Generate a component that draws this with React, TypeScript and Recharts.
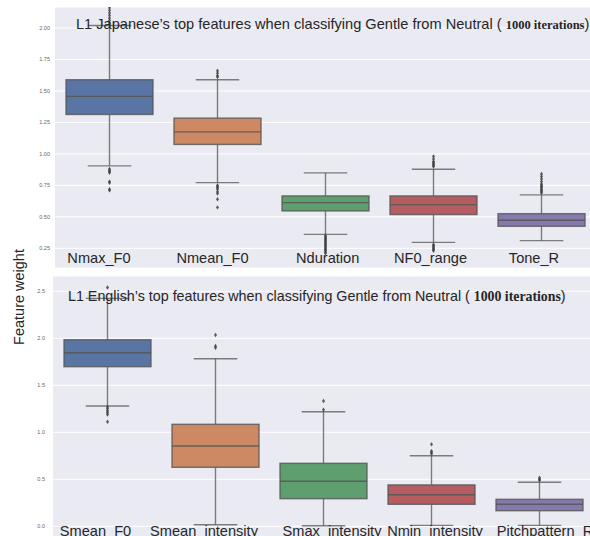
import React from 'react';
import { ComposedChart, Bar, XAxis, YAxis, CartesianGrid } from 'recharts';

// ---------- Top panel (L1 Japanese) ----------
const topCategories = ['Nmax_F0', 'Nmean_F0', 'Nduration', 'NF0_range', 'Tone_R'];
const topLow = [0.905, 0.772, 0.361, 0.297, 0.311];
const topQ1 = [1.313, 1.075, 0.547, 0.518, 0.425];
const topMedian = [1.457, 1.175, 0.613, 0.597, 0.473];
const topQ3 = [1.589, 1.284, 0.666, 0.666, 0.525];
const topHigh = [2.02, 1.589, 0.849, 0.878, 0.674];
const topOutliers = [
  [2.04, 2.06, 2.08, 2.1, 2.12, 2.14, 2.16, 0.88, 0.87, 0.86, 0.85, 0.78, 0.77, 0.72, 0.71],
  [1.61, 1.62, 1.64, 1.66, 0.75, 0.74, 0.73, 0.72, 0.7, 0.685, 0.64, 0.575],
  [0.35, 0.34, 0.33, 0.32, 0.31, 0.3, 0.29, 0.28, 0.27, 0.26, 0.25, 0.24, 0.23, 0.22, 0.21],
  [0.9, 0.91, 0.92, 0.93, 0.94, 0.96, 0.98, 0.28, 0.27, 0.26, 0.25, 0.24, 0.23],
  [0.69, 0.7, 0.71, 0.72, 0.73, 0.74, 0.75, 0.76, 0.78, 0.8, 0.82, 0.84],
];
const topTicks = [0.25, 0.5, 0.75, 1.0, 1.25, 1.5, 1.75, 2.0];

// ---------- Bottom panel (L1 English) ----------
const botCategories = ['Smean_F0', 'Smean_intensity', 'Smax_intensity', 'Nmin_intensity', 'Pitchpattern_R'];
const botLow = [1.28, 0.017, 0.006, 0.01, 0.01];
const botQ1 = [1.698, 0.628, 0.294, 0.234, 0.166];
const botMedian = [1.847, 0.854, 0.479, 0.336, 0.234];
const botQ3 = [1.985, 1.085, 0.67, 0.44, 0.287];
const botHigh = [2.425, 1.783, 1.219, 0.751, 0.468];
const botOutliers = [
  [2.54, 1.27, 1.25, 1.23, 1.21, 1.19, 1.113],
  [2.035, 1.918, 1.9],
  [1.333, 1.24],
  [0.872, 0.8, 0.785, 0.77],
  [0.517, 0.5, 0.49],
];
const botTicks = [0.0, 0.5, 1.0, 1.5, 2.0, 2.5];

const palette = ['#5875A4', '#CC8963', '#5F9E6E', '#B55D60', '#857AAB'];

// label nudges (px) – the original labels are not exactly centred under the boxes
const topLabelShift = [-10, -4.5, 2.7, -2.5, -7];
const botLabelShift = [-11.5, -11, 9, 4, 6];

function buildRows(cats: string[], low: number[], q1: number[], med: number[], q3: number[], high: number[], out: number[][]) {
  return cats.map((name, i) => {
    const lo = Math.min(low[i], ...out[i]);
    const hi = Math.max(high[i], ...out[i]);
    return { name, range: [lo, hi], low: low[i], q1: q1[i], median: med[i], q3: q3[i], high: high[i], outliers: out[i] };
  });
}

const topRows = buildRows(topCategories, topLow, topQ1, topMedian, topQ3, topHigh, topOutliers);
const botRows = buildRows(botCategories, botLow, botQ1, botMedian, botQ3, botHigh, botOutliers);

const LINE = '#555555';

const BoxShape = (props: any) => {
  const { x, y, width, height, payload, index } = props;
  if (!payload) return null;
  const [lo, hi] = payload.range;
  const top = Math.min(y, y + height);
  const h = Math.abs(height);
  const k = h / (hi - lo);
  const py = (v: number) => top + (hi - v) * k;
  const cx = x + width / 2;
  const capHalf = width / 4;
  const fill = palette[index % palette.length];
  return (
    <g>
      <line x1={cx} x2={cx} y1={py(payload.high)} y2={py(payload.q3)} stroke={LINE} strokeOpacity={0.75} strokeWidth={1.4} />
      <line x1={cx} x2={cx} y1={py(payload.q1)} y2={py(payload.low)} stroke={LINE} strokeOpacity={0.75} strokeWidth={1.4} />
      <line x1={cx - capHalf} x2={cx + capHalf} y1={py(payload.high)} y2={py(payload.high)} stroke={LINE} strokeOpacity={0.75} strokeWidth={1.4} />
      <line x1={cx - capHalf} x2={cx + capHalf} y1={py(payload.low)} y2={py(payload.low)} stroke={LINE} strokeOpacity={0.75} strokeWidth={1.4} />
      <rect x={x} y={py(payload.q3)} width={width} height={py(payload.q1) - py(payload.q3)} fill={fill} stroke={LINE} strokeOpacity={0.8} strokeWidth={1.4} />
      <line x1={x} x2={x + width} y1={py(payload.median)} y2={py(payload.median)} stroke={LINE} strokeOpacity={0.85} strokeWidth={1.4} />
      {payload.outliers.map((v: number, j: number) => {
        const oy = py(v);
        return (
          <polygon key={j} points={`${cx},${oy - 2.2} ${cx + 1.5},${oy} ${cx},${oy + 2.2} ${cx - 1.5},${oy}`} fill="#3f3f3f" fillOpacity={0.85} />
        );
      })}
    </g>
  );
};

const makeTick = (dy: number, shifts: number[]) => (props: any) => {
  const { x, y, payload, index } = props;
  const dx = shifts[index] ?? 0;
  return (
    <text x={x + dx} y={y + dy} textAnchor="middle" fontFamily="'Liberation Sans', Arial, sans-serif" fontSize={14.6} fill="#262626">
      {payload.value}
    </text>
  );
};

const tickStyle = { fontSize: 5.5, fill: '#666', fontFamily: "'Liberation Sans', Arial, sans-serif" };

export default function App() {
  return (
    <div style={{ position: 'absolute', left: 0, top: 0, width: 590, height: 536, overflow: 'hidden', background: '#fff' }}>
      <div style={{ position: 'absolute', left: 0, top: 0 }}>
        <ComposedChart width={600} height={268} data={topRows} margin={{ top: 7, right: 5, bottom: -20, left: 0 }}>
          <CartesianGrid vertical={false} stroke="#ffffff" strokeWidth={1} fill="#EAEAF2" fillOpacity={1} />
          <XAxis dataKey="name" type="category" height={20} axisLine={false} tickLine={false} tickSize={0} tickMargin={0} tick={makeTick(-5, topLabelShift)} interval={0} />
          <YAxis type="number" width={55} domain={[0.0935, 2.1668]} ticks={topTicks} allowDataOverflow axisLine={false} tickLine={false} tickSize={0} tickMargin={5} tick={tickStyle} tickFormatter={(v: number) => v.toFixed(2)} />
          <Bar dataKey="range" barSize={87} isAnimationActive={false} shape={BoxShape} />
        </ComposedChart>
      </div>
      <div style={{ position: 'absolute', left: 0, top: 270 }}>
        <ComposedChart width={600} height={270} data={botRows} margin={{ top: 6, right: 7, bottom: -20, left: 0 }}>
          <CartesianGrid vertical={false} stroke="#ffffff" strokeWidth={1} fill="#EAEAF2" fillOpacity={1} />
          <XAxis dataKey="name" type="category" height={20} axisLine={false} tickLine={false} tickSize={0} tickMargin={0} tick={makeTick(-4, botLabelShift)} interval={0} />
          <YAxis type="number" width={53} domain={[-0.1457, 2.6628]} ticks={botTicks} allowDataOverflow axisLine={false} tickLine={false} tickSize={0} tickMargin={8} tick={tickStyle} tickFormatter={(v: number) => v.toFixed(1)} />
          <Bar dataKey="range" barSize={87} isAnimationActive={false} shape={BoxShape} />
        </ComposedChart>
      </div>
      <svg width={590} height={536} style={{ position: 'absolute', left: 0, top: 0, pointerEvents: 'none' }}>
        <text x={76} y={29} fontFamily="'Liberation Sans', Arial, sans-serif" fontSize={14.6} fill="#262626">
          {'L1 Japanese’s top features when classifying Gentle from Neutral ( '}
          <tspan fontFamily="'Liberation Serif', 'Times New Roman', serif" fontWeight="bold" fontSize={12.5}>1000 iterations</tspan>
          {')'}
        </text>
        <text x={68} y={301} fontFamily="'Liberation Sans', Arial, sans-serif" fontSize={14.3} fill="#262626">
          {'L1 English’s top features when classifying Gentle from Neutral ( '}
          <tspan fontFamily="'Liberation Serif', 'Times New Roman', serif" fontWeight="bold" fontSize={13.8}>1000 iterations</tspan>
          {')'}
        </text>
        <text transform="translate(24,297) rotate(-90)" textAnchor="middle" fontFamily="'Liberation Sans', Arial, sans-serif" fontSize={14.5} fill="#262626">
          Feature weight
        </text>
      </svg>
    </div>
  );
}
